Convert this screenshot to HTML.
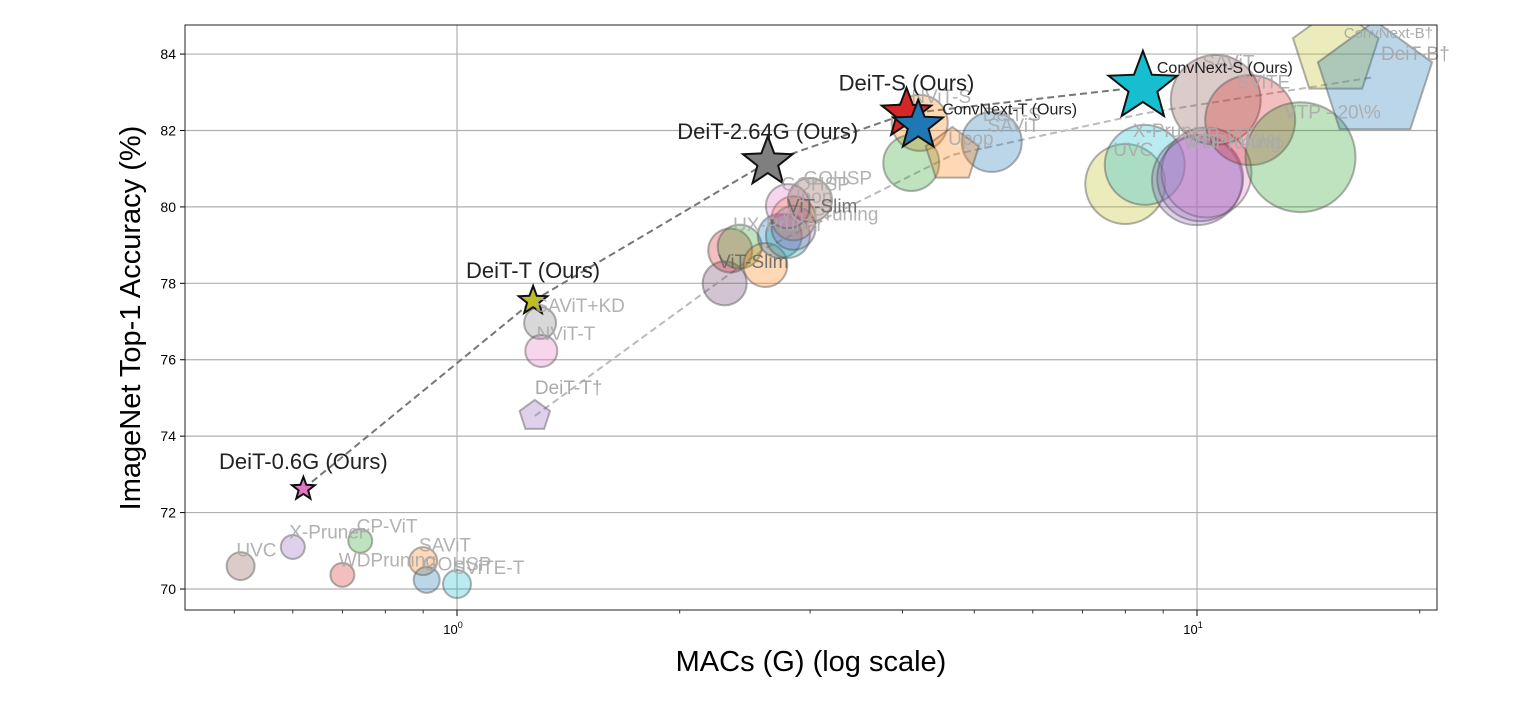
<!DOCTYPE html>
<html><head><meta charset="utf-8"><style>
body{margin:0;background:#fff;}
svg text{font-family:"Liberation Sans","DejaVu Sans",sans-serif;}
</style></head><body>
<svg id="chart" width="1538" height="696" xmlns="http://www.w3.org/2000/svg">
<defs><clipPath id="plotclip"><rect x="185" y="25" width="1252" height="585"/></clipPath></defs>
<g id="grid"></g><g id="lines" clip-path="url(#plotclip)"></g><g id="marks" clip-path="url(#plotclip)"></g><g id="labels"></g><g id="axes"></g>
</svg>
<script>
// ---- data ----
const baseNames = ["UVC","X-Pruner","WDPruning","CP-ViT","SAViT","GOHSP","SViTE-T","SAViT+KD","NViT-T","ViT-Slim","(red)","UX-Pruner","(orange)","(blue)","WDPruning","Upop","ViT-Slim","GOHSP","GOHSP","NViT-S","(green)","Upop","DeiT-S","SAViT","UVC","X-Pruner","WDPruning","CP-ViT","VTP - 40\\%","SAViT","SViTE","VTP - 20\\%"];
const baseMacs  = [0.51,0.60,0.70,0.74,0.90,0.91,1.0,1.295,1.30,2.30,2.34,2.41,2.61,2.73,2.80,2.85,2.85,2.80,3.0,4.22,4.11,4.67,5.28,5.28,8.0,8.5,10.0,10.3,10.1,10.6,11.8,13.8];
const baseAcc   = [70.60,71.10,70.37,71.26,70.73,70.24,70.13,76.96,76.23,78.0,78.86,78.96,78.48,79.24,79.24,79.7,79.45,80.02,80.18,82.2,81.15,81.36,81.7,81.7,80.6,81.1,80.7,80.9,80.75,82.8,82.27,81.3];
const baseSize  = [14,12,12,12,14,13,14,16,16,22,22,22,22,22,22,22,22,22,22,28,28,0,30,0,40,40,45,45,43,45,45,55];
const baseColor = ["#8c564b","#9467bd","#d62728","#2ca02c","#ff7f0e","#1f77b4","#17becf","#7f7f7f","#e377c2","#6a3d6a","#d62728","#2ca02c","#ff7f0e","#1f77b4","#17a0a8","#ff7f0e","#9467bd","#e377c2","#8c564b","#ff7f0e","#2ca02c","#ff7f0e","#1f77b4","#1f77b4","#bcbd22","#17becf","#9467bd","#e377c2","#9467bd","#8c564b","#d62728","#2ca02c"];
const showLabel = [1,1,1,1,1,1,1,1,1,1,0,1,0,0,1,1,1,1,1,1,0,1,1,1,1,1,1,1,1,1,1,1];
const pentNames = ["DeiT-T†","ConvNext-B†","DeiT-B†","(upop-pent)"];
const pentMacs  = [1.274,15.4,17.4,4.67];
const pentAcc   = [74.53,84.05,83.3,81.36];
const pentSize  = [16,45,60,28];
const pentColor = ["#9467bd","#bcbd22","#1f77b4","#ff7f0e"];
const oursNames = ["DeiT-0.6G (Ours)","DeiT-T (Ours)","DeiT-2.64G (Ours)","DeiT-S (Ours)","ConvNext-T (Ours)","ConvNext-S (Ours)"];
const oursMacs  = [0.62,1.267,2.63,4.05,4.20,8.45];
const oursAcc   = [72.62,77.54,81.17,82.44,82.13,83.14];
const oursSize  = [12,15,26,26,26,36];
const oursColor = ["#e377c2","#bcbd22","#7f7f7f","#d62728","#1f77b4","#17becf"];
const deitLineMacs = [0.62,1.267,2.63,4.05,8.45];
const deitLineAcc  = [72.62,77.54,81.17,82.44,83.14];
const distLineMacs = [1.274,2.6,4.67,8.5,17.4];
const distLineAcc  = [74.53,78.9,81.36,82.45,83.4];
const yTicks = [70,72,74,76,78,80,82,84];
const xMajor = [1,10];

// ---- axes ----
const X0=185,X1=1437,Y0=25,Y1=610;
const xs = v => 457 + 740*Math.log10(v);
const ys = v => 589 - (v-70)*38.21;
const NS="http://www.w3.org/2000/svg";
function mk(tag,attrs,parent){const e=document.createElementNS(NS,tag);for(const k in attrs)e.setAttribute(k,attrs[k]);parent.appendChild(e);return e;}
const G=document.getElementById('grid'),L=document.getElementById('lines'),M=document.getElementById('marks'),T=document.getElementById('labels'),A=document.getElementById('axes');

yTicks.forEach(t=>{
  const ln=mk('line',{x1:X0,x2:X1,y1:ys(t),y2:ys(t),stroke:'#b0b0b0','stroke-width':1.2},G);
  
  
  mk('line',{x1:X0-5,x2:X0,y1:ys(t),y2:ys(t),stroke:'#000','stroke-width':1},A);
  const tx=mk('text',{x:X0-9,y:ys(t)+5,'text-anchor':'end','font-size':14,fill:'#000'},A);
  tx.textContent=t;
  
  
});
xMajor.forEach((t,i)=>{
  const ln=mk('line',{x1:xs(t),x2:xs(t),y1:Y0,y2:Y1,stroke:'#b0b0b0','stroke-width':1.2},G);
  
  
  mk('line',{x1:xs(t),x2:xs(t),y1:Y1,y2:Y1+6,stroke:'#000','stroke-width':1},A);
  const tx=mk('text',{x:xs(t)-4,y:Y1+24,'text-anchor':'middle','font-size':13,fill:'#000'},A);
  tx.innerHTML='10<tspan dy="-6" font-size="9">'+i+'</tspan>';
  
  
});
[0.5,0.6,0.7,0.8,0.9,2,3,4,5,6,7,8,9,20].forEach(v=>{
  if(xs(v)>X0&&xs(v)<X1) mk('line',{x1:xs(v),x2:xs(v),y1:Y1,y2:Y1+3.5,stroke:'#000','stroke-width':0.8},A);
});
const frame=mk('rect',{x:X0,y:Y0,width:X1-X0,height:Y1-Y0,fill:'none',stroke:'#222','stroke-width':1},A);


let t=mk('text',{x:811,y:671,'text-anchor':'middle','font-size':29,fill:'#000'},A);
t.textContent='MACs (G) (log scale)';


t=mk('text',{x:0,y:0,'text-anchor':'middle','font-size':29,fill:'#000',transform:'translate(140,318) rotate(-90)'},A);
t.textContent='ImageNet Top-1 Accuracy (%)';



function poly(xsArr,ysArr,color,name){
  const p=mk('polyline',{points:xsArr.map((m,i)=>xs(m)+','+ys(ysArr[i])).join(' '),fill:'none',stroke:color,'stroke-width':2,'stroke-dasharray':'7,4'},L);
  
  
}
poly(deitLineMacs,deitLineAcc,'#777','ours-trend-line');
poly(distLineMacs,distLineAcc,'#bbb','baseline-trend-line');

function starPts(cx,cy,R){let s=[];for(let i=0;i<10;i++){const r=i%2?R*0.42:R;const a=-Math.PI/2+i*Math.PI/5;s.push((cx+r*Math.cos(a)).toFixed(1)+','+(cy+r*Math.sin(a)).toFixed(1));}return s.join(' ');}
function pentPts(cx,cy,R){let s=[];for(let i=0;i<5;i++){const a=-Math.PI/2+i*2*Math.PI/5;s.push((cx+R*Math.cos(a)).toFixed(1)+','+(cy+R*Math.sin(a)).toFixed(1));}return s.join(' ');}

baseMacs.forEach((m,i)=>{
  if(baseSize[i]>0){
    const c=mk('circle',{cx:xs(m),cy:ys(baseAcc[i]),r:baseSize[i],fill:baseColor[i],'fill-opacity':0.3,stroke:'#555','stroke-opacity':0.45,'stroke-width':2},M);
    
    
  }
  if(showLabel[i]){
    const dark = baseNames[i]==='ViT-Slim';
    const tx=mk('text',{x:xs(m)-(baseSize[i]||14)*0.3,y:ys(baseAcc[i])-(baseSize[i]||14)*0.7,'font-size':19,fill:dark?'#666':'#aaa','fill-opacity':0.9},T);
    tx.textContent=baseNames[i];
    
    
  }
});
pentMacs.forEach((m,i)=>{
  const p=mk('polygon',{points:pentPts(xs(m),ys(pentAcc[i]),pentSize[i]),fill:pentColor[i],'fill-opacity':0.3,stroke:'#555','stroke-opacity':0.45,'stroke-width':2},M);
  
  
  if(pentNames[i][0]!=='('){
    const tx=mk('text',{'font-size':i===1?15:19,fill:'#aaa','text-anchor':'start'},T);
    tx.setAttribute('x',i===0?xs(m):xs(m)+(i===1?8:6));
    tx.setAttribute('y',i===0?ys(pentAcc[i])-22:(i===1?ys(pentAcc[i])-14:ys(pentAcc[i])-21));
    tx.textContent=pentNames[i];
    
    
  }
});
oursMacs.forEach((m,i)=>{
  const s=mk('polygon',{points:starPts(xs(m),ys(oursAcc[i]),oursSize[i]),fill:oursColor[i],stroke:'#111','stroke-width':2,'stroke-linejoin':'miter'},M);
  
  
  const small = i>=4;
  const tx=mk('text',{'font-size':small?16:22,fill:'#222'},T);
  if(small){tx.setAttribute('x',xs(m)+(i===4?24:14));tx.setAttribute('y',ys(oursAcc[i])-(i===4?11:14));}
  else{tx.setAttribute('x',xs(m));tx.setAttribute('y',ys(oursAcc[i])-Math.min(oursSize[i],15)-8);tx.setAttribute('text-anchor','middle');}
  tx.textContent=oursNames[i];
  
  
});
</script>
</body></html>
